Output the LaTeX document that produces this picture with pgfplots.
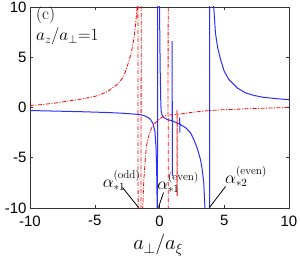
\documentclass[border=0pt]{standalone}
\usepackage{fontspec}
\usepackage{pgfplots}
\pgfplotsset{compat=1.18}
\newfontfamily\tickfont{Liberation Sans}
\definecolor{mblue}{RGB}{45,45,255}
\definecolor{mred}{RGB}{255,0,0}
\pgfplotsset{
  bl/.style={color=mblue, line width=1.0pt},
  rd/.style={color=mred, line width=0.8pt, dash pattern=on 4pt off 1.5pt on 1pt off 1.5pt},
}
\begin{document}
\begin{tikzpicture}
\begin{axis}[name=ax, scale only axis, width=259pt, height=201pt,
  xmin=-10, xmax=10, ymin=-10, ymax=10,
  xtick={-10,-5,0,5,10}, ytick={-10,-5,0,5,10},
  tick align=inside, major tick length=3pt,
  tick style={black!80, line width=0.5pt},
  axis line style={black!80, line width=0.6pt},
  ticklabel style={font=\fontsize{15}{15}\selectfont\tickfont},
  xticklabel style={yshift=-4pt},
  /pgf/number format/assume math mode=true,
  xlabel={$a_\perp/a_\xi$},
  xlabel style={font=\fontsize{21}{24}\selectfont, at={(axis description cs:0.495,0)}, anchor=base, yshift=-42pt},
]
% blue solid
\addplot[bl] coordinates {
(-10,-0.30) (-8,-0.36) (-6,-0.42) (-4,-0.50) (-3,-0.56) (-2,-0.65) (-1.5,-0.72)
(-1.2,-0.80) (-0.9,-0.98) (-0.69,-1.2) (-0.5,-1.6) (-0.35,-2.4) (-0.27,-4)
(-0.22,-6) (-0.19,-9) (-0.18,-11) (-0.16,-11) (-0.14,11)
};
\addplot[bl] coordinates {
(-0.03,11) (0.0,10) (0.05,4) (0.1,0.5) (0.13,-0.37) (0.2,-0.75) (0.33,-1.0)
(0.6,-1.2) (0.9,-1.3) (0.97,-1.31) (0.98,6.6) (0.99,-6.8) (1.0,-1.33)
(1.2,-1.45) (1.55,-1.65) (1.56,-1.0) (1.57,-2.5) (1.58,-1.66) (1.6,-1.68)
(2.0,-2.0) (2.39,-2.5) (2.65,-3.2) (2.9,-4.0) (3.17,-5.2) (3.3,-6.2)
(3.42,-7.5) (3.5,-9.8) (3.55,-11) (3.86,-11) (3.88,11)
};
\addplot[bl] coordinates {
(4.12,11) (4.19,10) (4.32,7.4) (4.5,5.9) (4.71,4.8) (5.0,3.6) (5.35,2.8) (6.0,1.95)
(6.64,1.46) (7.3,1.2) (7.93,1.03) (9.0,0.88) (10,0.78)
};
% red dash-dot
\addplot[rd] coordinates {
(-10,0.2) (-9,0.3) (-8,0.45) (-7.13,0.63) (-6,0.85) (-5,1.1) (-4.56,1.29)
(-4,1.6) (-3.27,2.29) (-2.8,3.0) (-2.49,4.1) (-2.2,5.3) (-1.98,6.8)
(-1.85,8.2) (-1.74,9.75) (-1.7,11) (-1.67,11) (-1.65,-11) (-1.43,-11) (-1.41,11)
};
\addplot[rd] coordinates {
(-1.31,-11) (-1.29,-9.8) (-1.21,-7.2) (-1.1,-5.2) (-1.0,-3.8)
(-0.87,-3.0) (-0.7,-2.3) (-0.56,-1.9) (-0.3,-1.5) (-0.18,-1.36) (0.1,-1.05)
(0.33,-0.87) (0.6,-0.78) (0.66,-0.77) (0.67,11)
};
\addplot[rd] coordinates {
(0.67,-11) (0.68,-0.76) (1.0,-0.72) (1.34,-0.68) (1.35,-0.2) (1.36,-8.8) (1.37,-0.67)
(1.62,-0.65) (2.5,-0.48) (3.88,-0.3) (5.0,-0.22) (6.77,-0.13) (8.5,-0.05) (10,0.0)
};
\node[anchor=west, font=\fontsize{17}{19}\selectfont] at (axis cs:-9.8,9.2) {(c)};
\node[anchor=west, font=\fontsize{16.5}{19}\selectfont] at (axis cs:-9.8,7.05) {$a_z/a_\perp{=}1$};
\node[font=\fontsize{16}{18}\selectfont] at (axis cs:-2.93,-7.26) {$\alpha_{*1}^{(\mathrm{odd})}$};
\node[font=\fontsize{16}{18}\selectfont] at (axis cs:1.43,-7.46) {$\alpha_{*1}^{(\mathrm{even})}$};
\node[font=\fontsize{16}{18}\selectfont] at (axis cs:6.68,-6.87) {$\alpha_{*2}^{(\mathrm{even})}$};
\draw[black, line width=0.8pt] (axis cs:-2.86,-7.96) -- (axis cs:-1.62,-9.95);
\draw[black, line width=0.8pt] (axis cs:0.31,-8.46) -- (axis cs:-0.08,-9.95);
\draw[black, line width=0.8pt] (axis cs:5.1,-7.86) -- (axis cs:3.86,-9.95);
\end{axis}
\pgfresetboundingbox
\path ([xshift=-30pt,yshift=-48pt]ax.south west) rectangle ([xshift=11pt,yshift=7pt]ax.north east);
\end{tikzpicture}
\end{document}
